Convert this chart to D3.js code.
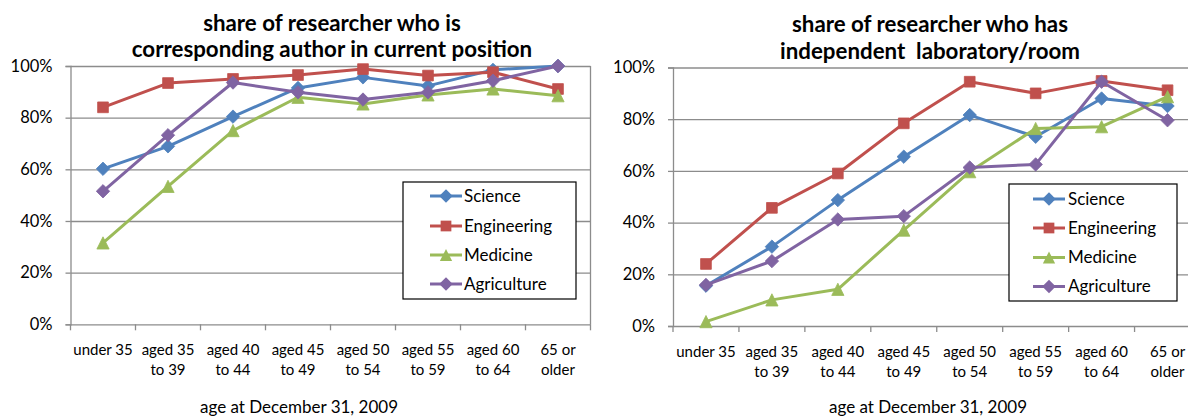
<!DOCTYPE html>
<html>
<head>
<meta charset="utf-8">
<script src="https://cdn.jsdelivr.net/npm/d3@7"></script>
<style>
  html, body { margin: 0; padding: 0; background: #fff; }
  svg { display: block; font-family: Lato, "Open Sans", sans-serif; }
  text { white-space: pre; }
</style>
</head>
<body>
<svg id="chart" width="1188" height="419"></svg>
<script>
// ---------- data ----------
const categories = ["under 35", "aged 35 to 39", "aged 40 to 44", "aged 45 to 49",
                    "aged 50 to 54", "aged 55 to 59", "aged 60 to 64", "65 or older"];
const seriesNames = ["Science", "Engineering", "Medicine", "Agriculture"];
const yTicks = [0, 0.2, 0.4, 0.6, 0.8, 1.0];
const xAxisTitle = "age at December 31, 2009";

const authorTitle = ["share of researcher who is", "corresponding author in current position"];
const authorScience     = [0.602, 0.689, 0.804, 0.915, 0.956, 0.923, 0.985, 1.000];
const authorEngineering = [0.840, 0.934, 0.950, 0.965, 0.988, 0.963, 0.976, 0.911];
const authorMedicine    = [0.315, 0.534, 0.750, 0.879, 0.853, 0.888, 0.911, 0.885];
const authorAgriculture = [0.515, 0.732, 0.936, 0.898, 0.870, 0.898, 0.943, 1.000];

const labTitle = ["share of researcher who has", "independent  laboratory/room"];
const labScience     = [0.156, 0.307, 0.487, 0.655, 0.816, 0.732, 0.880, 0.851];
const labEngineering = [0.240, 0.457, 0.590, 0.784, 0.945, 0.900, 0.948, 0.912];
const labMedicine    = [0.017, 0.101, 0.142, 0.371, 0.597, 0.764, 0.771, 0.887];
const labAgriculture = [0.159, 0.251, 0.412, 0.425, 0.613, 0.625, 0.945, 0.796];

// ---------- styles ----------
const colors = ["#4F81BD", "#C0504D", "#9BBB59", "#8064A2"];
const markerKinds = ["diamond", "square", "triangle", "diamond"];
const gridColor = "#8c8c8c";

const diamondSym = { draw(ctx, size) { const r = Math.sqrt(size) / 2 * Math.SQRT2;
  ctx.moveTo(0, -r); ctx.lineTo(r, 0); ctx.lineTo(0, r); ctx.lineTo(-r, 0); ctx.closePath(); } };
const squareSym = { draw(ctx, size) { const h = Math.sqrt(size) / 2;
  ctx.rect(-h, -h, 2 * h, 2 * h); } };
const triSym = { draw(ctx, size) { const h = Math.sqrt(size) / 2;
  ctx.moveTo(0, -h); ctx.lineTo(h, h); ctx.lineTo(-h, h); ctx.closePath(); } };
const symbols = {
  diamond: d3.symbol(diamondSym, 90),
  square: d3.symbol(squareSym, 115),
  triangle: d3.symbol(triSym, 150)
};

const svg = d3.select("#chart");

function splitLabel(s) {
  const w = s.split(" ");
  if (w.length <= 2) return [s];
  return [w.slice(0, 2).join(" "), w.slice(2).join(" ")];
}

function drawChart(cfg) {
  const g = svg.append("g");
  const x = d3.scaleBand().domain(categories).range([cfg.x0, cfg.x1]);
  const y = d3.scaleLinear().domain([0, 1]).range([cfg.yBot, cfg.yTop]);
  const cx = c => x(c) + x.bandwidth() / 2;

  // gridlines
  g.append("g")
    .attr("transform", `translate(${cfg.x0},0)`)
    .call(d3.axisLeft(y).tickValues(yTicks.slice(1)).tickSize(-(cfg.x1 - cfg.x0)).tickFormat(""))
    .call(a => a.select(".domain").remove())
    .call(a => a.selectAll("line").attr("stroke", gridColor).attr("stroke-width", 1.3));

  // plot border right
  g.append("line").attr("x1", cfg.x1).attr("x2", cfg.x1).attr("y1", cfg.yTop).attr("y2", cfg.yBot)
    .attr("stroke", gridColor).attr("stroke-width", 1.3);

  // y axis
  const ya = g.append("g")
    .attr("transform", `translate(${cfg.x0},0)`)
    .call(d3.axisLeft(y).tickValues(yTicks).tickFormat(d3.format(".0%")).tickSize(5).tickPadding(13))
  ya.select(".domain").attr("stroke", gridColor).attr("stroke-width", 1.3);
  ya.selectAll(".tick line").attr("stroke", gridColor).attr("stroke-width", 1.3);
  ya.selectAll(".tick text").attr("font-family", "Lato").attr("font-size", 16.5).attr("fill", "#000");

  // x axis
  const xa = g.append("g")
    .attr("transform", `translate(0,${cfg.yBot})`)
    .call(d3.axisBottom(x).tickSize(0).tickPadding(0).tickFormat(""));
  xa.select(".domain").attr("stroke", gridColor).attr("stroke-width", 1.3);
  xa.selectAll(".tick").remove();
  const bounds = categories.map(c => x(c)).concat([cfg.x1]);
  xa.selectAll("line.sep").data(bounds).enter().append("line").attr("class", "sep")
    .attr("x1", d => d).attr("x2", d => d).attr("y1", 0).attr("y2", 6)
    .attr("stroke", gridColor).attr("stroke-width", 1.3);

  // category labels
  const lab = g.append("g").attr("font-size", 15).attr("font-family", "Lato").attr("text-anchor", "middle");
  categories.forEach(c => {
    const lines = splitLabel(c);
    const t = lab.append("text").attr("x", cx(c)).attr("y", cfg.catY[0]);
    lines.forEach((ln, i) => t.append("tspan").attr("x", cx(c)).attr("y", cfg.catY[i]).text(ln));
  });

  // axis title
  g.append("text").attr("x", cfg.axisTitleX).attr("y", 413).attr("text-anchor", "middle")
    .attr("font-size", 17).attr("font-family", "Lato").text(xAxisTitle);

  // chart title
  cfg.title.forEach((t, i) => {
    g.append("text").attr("x", cfg.titleX).attr("y", cfg.titleY[i]).attr("text-anchor", "middle")
      .attr("font-size", 22.3).attr("font-weight", "bold").attr("font-family", "Lato").text(t);
  });

  // series
  const line = d3.line().x((d, i) => cx(categories[i])).y(d => y(d));
  cfg.series.forEach((vals, si) => {
    const sg = g.append("g");
    sg.append("path").datum(vals).attr("d", line).attr("fill", "none")
      .attr("stroke", colors[si]).attr("stroke-width", 3).attr("stroke-linejoin", "round");
    sg.selectAll("path.m").data(vals).enter().append("path").attr("class", "m")
      .attr("transform", (d, i) => `translate(${cx(categories[i])},${y(d)})`)
      .attr("d", symbols[markerKinds[si]]())
      .attr("fill", colors[si]).attr("stroke", colors[si]).attr("stroke-width", 0.8);
  });

  // legend
  const L = cfg.legend;
  const lg = g.append("g");
  lg.append("rect").attr("x", L.x).attr("y", L.y).attr("width", L.w).attr("height", L.h)
    .attr("fill", "#fff").attr("stroke", "#000").attr("stroke-width", 1.2);
  seriesNames.forEach((name, si) => {
    const yy = L.y + L.offs[si];
    lg.append("line").attr("x1", L.lx0).attr("x2", L.lx1).attr("y1", yy).attr("y2", yy)
      .attr("stroke", colors[si]).attr("stroke-width", 3);
    lg.append("path").attr("transform", `translate(${(L.lx0 + L.lx1) / 2},${yy})`)
      .attr("d", symbols[markerKinds[si]]()).attr("fill", colors[si]);
    lg.append("text").attr("x", L.tx).attr("y", yy).attr("dy", "0.35em")
      .attr("font-size", 17).attr("font-family", "Lato").text(name);
  });
}

drawChart({
  x0: 70.5, x1: 590.5, yTop: 66, yBot: 324.3,
  title: authorTitle, titleX: 332, titleY: [31, 57],
  catY: [355, 375], axisTitleX: 299,
  series: [authorScience, authorEngineering, authorMedicine, authorAgriculture],
  legend: { x: 403, y: 182, w: 173, h: 117, lx0: 430, lx1: 462, tx: 464, offs: [14, 44, 73, 102] }
});
drawChart({
  x0: 673, x1: 1200.5, yTop: 67.5, yBot: 326,
  title: labTitle, titleX: 930, titleY: [32, 59],
  catY: [357, 377], axisTitleX: 928,
  series: [labScience, labEngineering, labMedicine, labAgriculture],
  legend: { x: 1009, y: 184, w: 168, h: 117, lx0: 1033, lx1: 1065, tx: 1068, offs: [15, 44, 73.5, 102.5] }
});
</script>
</body>
</html>
